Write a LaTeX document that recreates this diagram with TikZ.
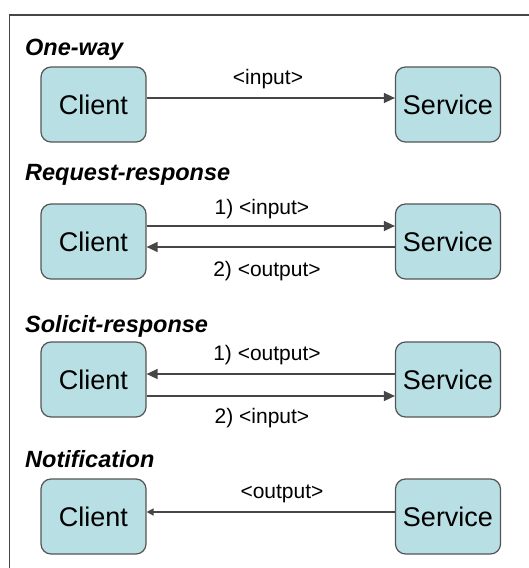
\documentclass[tikz,border=0pt]{standalone}
\usepackage{fontspec}
\setmainfont{Liberation Sans}
\usetikzlibrary{arrows.meta, positioning}

\definecolor{boxfill}{RGB}{184,223,227}
\definecolor{boxline}{RGB}{85,85,85}
\definecolor{msgline}{RGB}{70,70,70}

\begin{document}
\begin{tikzpicture}[x=1pt, y=-1pt,
  party/.style={shape=rectangle, rounded corners=10pt, minimum height=75pt, minimum width=105pt, draw=boxline, line width=1.2pt, fill=boxfill, font=\fontsize{27}{30}\selectfont},
  ttl/.style={anchor=base west, inner sep=0pt, font=\fontsize{23.5}{26}\selectfont\bfseries\itshape},
  lab/.style={anchor=base, inner sep=0pt, font=\fontsize{21}{24}\selectfont},
  msg/.style={draw=msgline, line width=1.5pt, -{Triangle[length=11pt, width=10pt]}},
  smallmsg/.style={draw=msgline, line width=1.5pt, -{Triangle[length=7pt, width=7pt]}}]
\useasboundingbox (0,0) rectangle (529,568);
\draw[draw=msgline, line width=1.5pt] (529,15) -- (9.5,15) -- (9.5,568);
%one-way
\node[ttl] (t1) at (25,55) {One-way};
\node[party] (c1) at (93.5,104.5) {Client};
\node[party] (s1) at (448,104.5) {Service};
\draw[msg] ([yshift=6.5pt]c1.east) -- ([yshift=6.5pt]s1.west);
\node[lab] (l1) at (268,84) {<input>};
%request-response
\node[ttl] (t2) at (25,180) {Request-response};
\node[party] (c2) at (93.5,241.5) {Client};
\node[party] (s2) at (448,241.5) {Service};
\draw[msg] ([yshift=15.5pt]c2.east) -- ([yshift=15.5pt]s2.west);
\draw[msg] ([yshift=-5.5pt]s2.west) -- ([yshift=-5.5pt]c2.east);
\node[lab] (l2) at (262,214) {1) <input>};
\node[lab] (l3) at (267,276) {2) <output>};
%solicit-response
\node[ttl] (t3) at (25,332) {Solicit-response};
\node[party] (c3) at (93.5,379.5) {Client};
\node[party] (s3) at (448,379.5) {Service};
\draw[msg] ([yshift=5.5pt]s3.west) -- ([yshift=5.5pt]c3.east);
\draw[msg] ([yshift=-16.5pt]c3.east) -- ([yshift=-16.5pt]s3.west);
\node[lab] (l4) at (267,360) {1) <output>};
\node[lab] (l5) at (262,423) {2) <input>};
%notification
\node[ttl] (t4) at (25,467) {Notification};
\node[party] (c4) at (93.5,516.5) {Client};
\node[party] (s4) at (448,516.5) {Service};
\draw[smallmsg] ([yshift=4.5pt]s4.west) -- ([yshift=4.5pt]c4.east);
\node[lab] (l6) at (282,498) {<output>};
\end{tikzpicture}
\end{document}
